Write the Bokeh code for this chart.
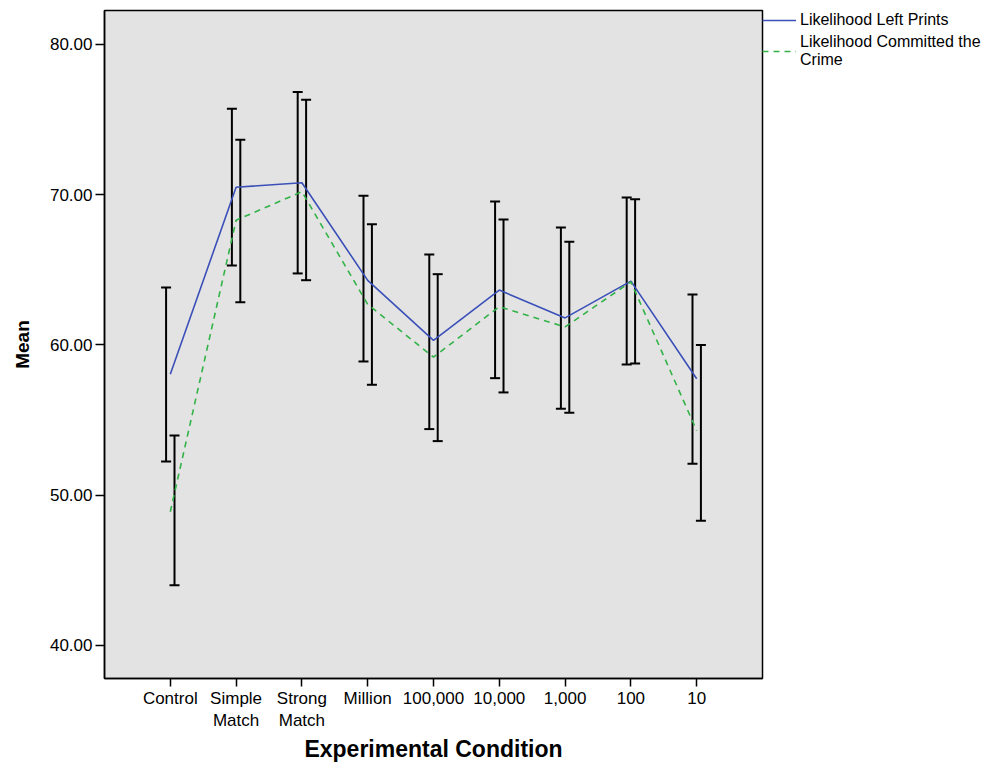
from bokeh.plotting import figure
from bokeh.models import Range1d, FixedTicker, PrintfTickFormatter, Legend, LegendItem, ColumnDataSource
from bokeh.embed import file_html
from bokeh.resources import INLINE

# ---- data ----
categories = ["Control", "Simple\nMatch", "Strong\nMatch", "Million", "100,000",
              "10,000", "1,000", "100", "10"]
prints_mean = [58.05, 70.5, 70.8, 64.3, 60.3, 63.65, 61.8, 64.25, 57.75]
prints_low = [52.25, 65.29, 64.76, 58.9, 54.4, 57.79, 55.75, 58.7, 52.1]
prints_high = [63.83, 75.72, 76.83, 69.93, 66.02, 69.55, 67.82, 69.82, 63.36]
crime_mean = [48.9, 68.3, 70.2, 62.7, 59.19, 62.55, 61.2, 64.2, 54.3]
crime_low = [44.0, 62.85, 64.31, 57.35, 53.6, 56.84, 55.49, 58.77, 48.3]
crime_high = [53.98, 73.66, 76.32, 68.04, 64.71, 68.35, 66.87, 69.7, 60.0]
y_ticks = [40, 50, 60, 70, 80]

FONT = "Liberation Sans"
BLUE = "#3a50b8"
GREEN = "#33b347"

xs = list(range(1, len(categories) + 1))
off = 0.064

p = figure(frame_width=658, frame_height=668, output_backend="svg", toolbar_location=None,
           x_range=Range1d(0, 10), y_range=Range1d(37.8, 82.26),
           min_border_left=104, min_border_right=0, min_border_top=10, min_border_bottom=80)

p.background_fill_color = "#e3e3e3"
p.border_fill_color = "white"
p.outline_line_color = "black"
p.outline_line_width = 1.5
p.xgrid.visible = False
p.ygrid.visible = False

# error bars
src_p = ColumnDataSource(dict(x=[v - off for v in xs], lo=prints_low, hi=prints_high))
src_c = ColumnDataSource(dict(x=[v + off for v in xs], lo=crime_low, hi=crime_high))
for s in (src_p, src_c):
    p.segment(x0="x", x1="x", y0="lo", y1="hi", source=s, line_color="black", line_width=2)
    p.scatter(x="x", y="lo", source=s, marker="dash", size=10, line_color="black", line_width=2)
    p.scatter(x="x", y="hi", source=s, marker="dash", size=10, line_color="black", line_width=2)

l1 = p.line(xs, prints_mean, line_color=BLUE, line_width=1.6)
l2 = p.line(xs, crime_mean, line_color=GREEN, line_width=1.6, line_dash="6 5")

# axes
p.xaxis.ticker = FixedTicker(ticks=xs)
p.xaxis.major_label_overrides = {i: c for i, c in zip(xs, categories)}
p.yaxis.ticker = FixedTicker(ticks=y_ticks)
p.yaxis.formatter = PrintfTickFormatter(format="%.2f")
for ax in (p.xaxis[0], p.yaxis[0]):
    ax.axis_line_color = "black"
    ax.axis_line_width = 1.5
    ax.major_tick_line_color = "black"
    ax.major_tick_line_width = 1.5
    ax.major_tick_in = 0
    ax.minor_tick_line_color = None
    ax.major_label_text_font = FONT
    ax.major_label_text_font_size = "17px"
    ax.major_label_text_color = "black"
    ax.axis_label_text_font = FONT
    ax.axis_label_text_font_style = "bold"
    ax.axis_label_text_color = "black"

p.xaxis.major_tick_out = 8
p.yaxis.major_tick_out = 9
p.xaxis.axis_label = "Experimental Condition"
p.xaxis.axis_label_text_font_size = "23px"
p.xaxis.major_label_standoff = 2
p.xaxis.axis_label_standoff = 3
p.yaxis.axis_label = "Mean"
p.yaxis.axis_label_text_font_size = "19px"
p.yaxis.major_label_standoff = 3
p.yaxis.axis_label_standoff = 14

legend = Legend(items=[LegendItem(label="Likelihood Left Prints", renderers=[l1]),
                       LegendItem(label="Likelihood Committed the\nCrime", renderers=[l2])],
                location="top_left")
legend.margin = 0
legend.padding = 1
legend.spacing = 3
legend.glyph_width = 34
legend.glyph_height = 20
legend.label_standoff = 4
legend.border_line_color = None
legend.background_fill_alpha = 0
legend.label_text_font = FONT
legend.label_text_font_size = "16px"
legend.label_text_color = "black"
p.add_layout(legend, "right")

open("out.html", "w").write(file_html(p, INLINE))
